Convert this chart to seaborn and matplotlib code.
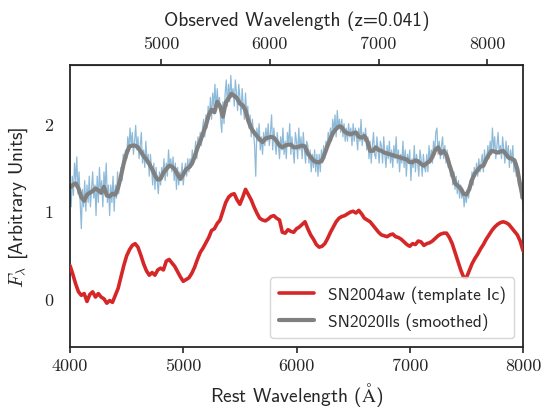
import matplotlib
matplotlib.use("Agg")
import matplotlib.pyplot as plt
import numpy as np
import pandas as pd
import seaborn as sns

# ---------------- data ----------------
Z = 0.041

wave_25 = np.arange(4000, 8001, 25)
template_flux = [
    0.38, 0.28, 0.17, 0.08, 0.04, 0.06, -0.03, 0.05, 0.08, 0.02,
    0.06, 0.02, 0.00, -0.05, -0.02, -0.04, 0.04, 0.12, 0.25, 0.38,
    0.49, 0.56, 0.61, 0.63, 0.59, 0.50, 0.40, 0.32, 0.27, 0.30,
    0.27, 0.33, 0.35, 0.33, 0.43, 0.45, 0.41, 0.37, 0.31, 0.25,
    0.20, 0.22, 0.24, 0.29, 0.36, 0.45, 0.53, 0.58, 0.64, 0.70,
    0.78, 0.80, 0.86, 0.90, 1.00, 1.10, 1.16, 1.19, 1.20, 1.13,
    1.08, 1.16, 1.25, 1.19, 1.13, 1.05, 0.98, 0.92, 0.90, 0.89,
    0.91, 0.94, 0.95, 0.92, 0.90, 0.76, 0.75, 0.79, 0.77, 0.76,
    0.80, 0.82, 0.85, 0.88, 0.80, 0.73, 0.68, 0.62, 0.59, 0.60,
    0.63, 0.69, 0.76, 0.82, 0.88, 0.92, 0.94, 0.95, 0.97, 0.99,
    1.00, 0.98, 1.01, 0.97, 0.92, 0.90, 0.88, 0.84, 0.80, 0.76,
    0.73, 0.72, 0.71, 0.73, 0.74, 0.71, 0.70, 0.68, 0.65, 0.62,
    0.60, 0.63, 0.62, 0.66, 0.65, 0.61, 0.63, 0.64, 0.66, 0.69,
    0.72, 0.74, 0.75, 0.75, 0.70, 0.63, 0.53, 0.43, 0.33, 0.25,
    0.24, 0.32, 0.40, 0.46, 0.51, 0.57, 0.62, 0.68, 0.73, 0.78,
    0.82, 0.85, 0.87, 0.88, 0.87, 0.85, 0.81, 0.77, 0.73, 0.66,
    0.55,
]

smoothed_flux = [
    1.27, 1.30, 1.32, 1.26, 1.16, 1.12, 1.19, 1.21,
    1.23, 1.26, 1.24, 1.21, 1.28, 1.18, 1.17, 1.20,
    1.19, 1.27, 1.40, 1.55, 1.66, 1.74, 1.75, 1.75,
    1.73, 1.68, 1.63, 1.59, 1.54, 1.48, 1.41, 1.36,
    1.37, 1.44, 1.48, 1.52, 1.51, 1.48, 1.42, 1.37,
    1.42, 1.48, 1.50, 1.54, 1.62, 1.72, 1.80, 1.89,
    1.98, 2.10, 2.16, 2.13, 2.25, 2.20, 2.08, 2.24,
    2.29, 2.34, 2.32, 2.29, 2.23, 2.21, 2.15, 2.03,
    1.95, 1.90, 1.86, 1.82, 1.79, 1.83, 1.84, 1.85,
    1.84, 1.80, 1.75, 1.73, 1.75, 1.76, 1.76, 1.73,
    1.73, 1.74, 1.75, 1.74, 1.66, 1.62, 1.58, 1.56,
    1.56, 1.58, 1.66, 1.75, 1.83, 1.90, 1.94, 1.97,
    1.96, 1.91, 1.89, 1.88, 1.89, 1.90, 1.85, 1.84,
    1.86, 1.80, 1.69, 1.69, 1.73, 1.70, 1.69, 1.67,
    1.66, 1.65, 1.64, 1.63, 1.62, 1.61, 1.60, 1.59,
    1.56, 1.56, 1.58, 1.57, 1.54, 1.52, 1.55, 1.57,
    1.62, 1.70, 1.73, 1.66, 1.69, 1.64, 1.53, 1.43,
    1.32, 1.29, 1.26, 1.20, 1.19, 1.25, 1.36, 1.43,
    1.47, 1.51, 1.52, 1.59, 1.65, 1.69, 1.68, 1.67,
    1.68, 1.69, 1.65, 1.61, 1.60, 1.58, 1.48, 1.30,
    1.15,
]

wave_10 = np.arange(4000, 8001, 10)
raw_flux = [
    1.30, 1.05, 1.40, 1.18, 1.55, 1.35, 1.62, 1.20, 1.45, 1.10,
    0.80, 1.25, 1.05, 1.35, 1.00, 1.30, 1.10, 1.40, 1.05, 1.25,
    1.45, 1.15, 1.30, 0.95, 1.40, 1.10, 1.50, 1.20, 1.35, 1.05,
    1.45, 1.25, 1.55, 1.10, 1.30, 0.95, 1.30, 1.10, 1.40, 1.00,
    1.30, 1.15, 1.45, 1.20, 1.35, 1.50, 1.35, 1.65, 1.55, 1.70,
    1.60, 1.85, 1.70, 1.95, 1.75, 1.90, 1.65, 1.80, 1.98, 1.70,
    1.85, 1.60, 1.75, 1.90, 1.55, 1.70, 1.50, 1.80, 1.55, 1.65,
    1.40, 1.65, 1.50, 1.30, 1.55, 1.25, 1.50, 1.35, 1.20, 1.45,
    1.30, 1.50, 1.40, 1.60, 1.35, 1.55, 1.40, 1.70, 1.50, 1.60,
    1.45, 1.62, 1.35, 1.55, 1.25, 1.50, 1.30, 1.45, 1.35, 1.55,
    1.30, 1.45, 1.55, 1.40, 1.60, 1.45, 1.60, 1.50, 1.70, 1.55,
    1.65, 1.80, 1.60, 1.85, 1.75, 1.90, 1.75, 1.95, 2.05, 1.85,
    2.10, 1.95, 2.20, 2.05, 2.30, 2.05, 2.35, 2.20, 2.45, 2.15,
    2.40, 2.20, 2.30, 2.05, 1.90, 2.25, 2.00, 2.35, 2.50, 2.20,
    2.45, 2.25, 2.55, 2.30, 2.40, 2.20, 2.50, 2.35, 2.15, 2.45,
    2.30, 2.10, 2.40, 2.20, 2.05, 2.35, 2.10, 2.20, 1.95, 2.10,
    1.85, 2.05, 1.90, 1.75, 1.40, 1.95, 1.80, 2.00, 1.70, 1.85,
    1.65, 1.90, 1.75, 1.95, 1.80, 2.00, 1.75, 1.90, 2.10, 1.70,
    1.95, 1.80, 1.65, 1.90, 1.75, 1.60, 1.85, 1.70, 1.95, 1.65,
    1.80, 1.60, 1.90, 1.75, 2.00, 1.65, 1.85, 1.70, 1.55, 1.90,
    1.80, 1.60, 1.95, 1.70, 1.85, 1.60, 1.90, 1.70, 1.55, 1.80,
    1.75, 1.55, 1.70, 1.45, 1.65, 1.50, 1.70, 1.45, 1.65, 1.40,
    1.65, 1.45, 1.70, 1.55, 1.75, 1.60, 1.80, 1.70, 1.90, 1.75,
    1.95, 1.80, 2.05, 1.90, 2.10, 1.85, 2.15, 1.95, 2.05, 1.90,
    2.05, 1.85, 2.00, 1.80, 1.95, 1.80, 2.00, 1.85, 1.95, 1.75,
    2.00, 1.80, 1.95, 1.85, 1.70, 1.95, 1.80, 2.05, 1.75, 1.90,
    1.80, 1.95, 1.70, 1.85, 1.60, 1.80, 1.55, 1.75, 1.90, 1.65,
    1.60, 1.85, 1.70, 1.55, 1.80, 1.75, 1.55, 1.85, 1.65, 1.50,
    1.75, 1.60, 1.80, 1.55, 1.70, 1.50, 1.75, 1.60, 1.85, 1.55,
    1.70, 1.45, 1.65, 1.55, 1.80, 1.50, 1.70, 1.40, 1.65, 1.55,
    1.70, 1.35, 1.60, 1.50, 1.75, 1.45, 1.65, 1.55, 1.40, 1.70,
    1.60, 1.40, 1.65, 1.50, 1.45, 1.65, 1.45, 1.75, 1.55, 1.70,
    1.55, 1.80, 1.65, 1.90, 1.95, 1.65, 1.80, 1.60, 1.75, 1.85,
    1.60, 1.75, 1.55, 1.70, 1.50, 1.60, 1.40, 1.50, 1.30, 1.45,
    1.25, 1.40, 1.20, 1.35, 1.15, 1.30, 1.15, 1.25, 1.05, 1.20,
    1.10, 1.25, 1.15, 1.35, 1.30, 1.45, 1.30, 1.50, 1.40, 1.55,
    1.40, 1.60, 1.45, 1.55, 1.65, 1.45, 1.70, 1.55, 1.60, 1.75,
    1.60, 1.80, 1.65, 1.95, 1.70, 1.85, 1.60, 1.75, 1.90, 1.65,
    1.75, 1.60, 1.85, 1.70, 1.55, 1.80, 1.60, 1.75, 1.50, 1.70,
    1.55, 1.75, 1.45, 1.60, 1.40, 1.55, 1.30, 1.40, 1.15, 1.25,
    1.00,
]

x_ticks = [4000, 5000, 6000, 7000, 8000]
y_ticks = [0, 1, 2]
top_ticks = [5000, 6000, 7000, 8000]

label_template = "SN2004aw (template Ic)"
label_smoothed = "SN2020lls (smoothed)"

# ---------------- style ----------------
sns.set_style("ticks")
plt.rcParams["font.family"] = ["cmss10", "DejaVu Sans"]
plt.rcParams["mathtext.fontset"] = "cm"
plt.rcParams["axes.unicode_minus"] = False
plt.rcParams["axes.formatter.use_mathtext"] = True

fig = plt.figure(figsize=(5.57, 4.14), dpi=100)
ax = fig.add_axes([70 / 557, 1 - 348 / 414, 453 / 557, 282 / 414])

df_raw = pd.DataFrame({"wave": wave_10, "flux": raw_flux})
df_tpl = pd.DataFrame({"wave": wave_25, "flux": template_flux})
df_sm = pd.DataFrame({"wave": wave_25, "flux": smoothed_flux})

sns.lineplot(data=df_raw, x="wave", y="flux", ax=ax, color="#1f77b4",
             alpha=0.5, lw=0.9, legend=False, zorder=1)
sns.lineplot(data=df_tpl, x="wave", y="flux", ax=ax, color="#d62728",
             lw=2.6, label=label_template, zorder=3)
sns.lineplot(data=df_sm, x="wave", y="flux", ax=ax, color="#808080",
             lw=3.0, label=label_smoothed, zorder=2)

ax.set_xlim(4000, 8000)
ax.set_ylim(-0.55, 2.67)
ax.set_xticks(x_ticks)
ax.set_yticks(y_ticks)
ax.set_xticklabels([str(v) for v in x_ticks])
ax.set_yticklabels([str(v) for v in y_ticks])

ax.tick_params(axis="x", direction="out", length=4, width=1.2, pad=4,
               labelsize=13, labelfontfamily="cmr10", colors="#262626")
ax.tick_params(axis="y", length=0, pad=12, labelsize=13,
               labelfontfamily="cmr10", colors="#262626")
for s in ax.spines.values():
    s.set_linewidth(1.3)
    s.set_color("#262626")

ax.set_xlabel(r"Rest Wavelength ($\mathrm{\AA}$)", fontsize=14,
              color="#262626", labelpad=5)
ax.set_ylabel(r"$F_\lambda$ [Arbitrary Units]", fontsize=14,
              color="#262626", labelpad=10)

secax = ax.secondary_xaxis("top", functions=(lambda x: x * (1 + Z),
                                             lambda x: x / (1 + Z)))
secax.set_xticks(top_ticks)
secax.set_xticklabels([str(v) for v in top_ticks])
secax.tick_params(direction="out", length=4, width=1.2, pad=6,
                  labelsize=13, labelfontfamily="cmr10", colors="#262626")
secax.set_xlabel("Observed Wavelength (z=0.041)", fontsize=14,
                 color="#262626", labelpad=8)

leg = ax.legend(loc="lower right", fontsize=12.5, frameon=True,
                fancybox=True, edgecolor="#cccccc", framealpha=0.8,
                handlelength=2.0, borderpad=0.5, labelspacing=0.5)

fig.savefig("out.png", dpi=100)
